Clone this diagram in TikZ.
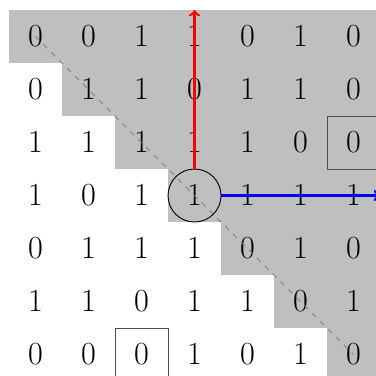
\documentclass[tikz,border=0pt]{standalone}
\usepackage{amsmath,amssymb}
\usepackage{tikz}

\begin{document}
\begin{tikzpicture}[x=1cm,y=1cm,line width=0.5pt,font=\LARGE]
\path[use as bounding box] (0.33,-7.405) rectangle (7.424,-0.311);
% shaded upper triangle
\foreach \i in {1,...,7} {\fill[black!25] ({\i-0.5},{-\i+0.5}) rectangle (7.5,{-\i-0.5});}
% entries
\foreach \row [count=\i] in {{0,0,1,1,0,1,0},{0,1,1,0,1,1,0},{1,1,1,1,1,0,0},{1,0,1,1,1,1,1},{0,1,1,1,0,1,0},{1,1,0,1,1,0,1},{0,0,0,1,0,1,0}} {
  \foreach \v [count=\j] in \row {\node[inner sep=0pt,minimum size=1cm] (m\i\j) at (\j,-\i) {$\v$};}
}
\draw[dashed,gray] (m11.center)--(m77.center);
\node[draw,circle,inner sep=0pt,minimum size=1cm] (piv) at (m44) {};
\node[draw=black!70,inner sep=0pt,minimum size=1cm] (box37) at (m37) {};
\node[draw=black!70,inner sep=0pt,minimum size=1cm] (box73) at (m73) {};
\coordinate (up) at (4,-0.5); \coordinate (rt) at (7.5,-4);
\draw[->,very thick,color={rgb,1:red,1;green,0;blue,0}] (piv.north)--(up);
\draw[->,very thick,color={rgb,1:red,0;green,0;blue,1}] (piv.east)--(rt);
\end{tikzpicture}
\end{document}
